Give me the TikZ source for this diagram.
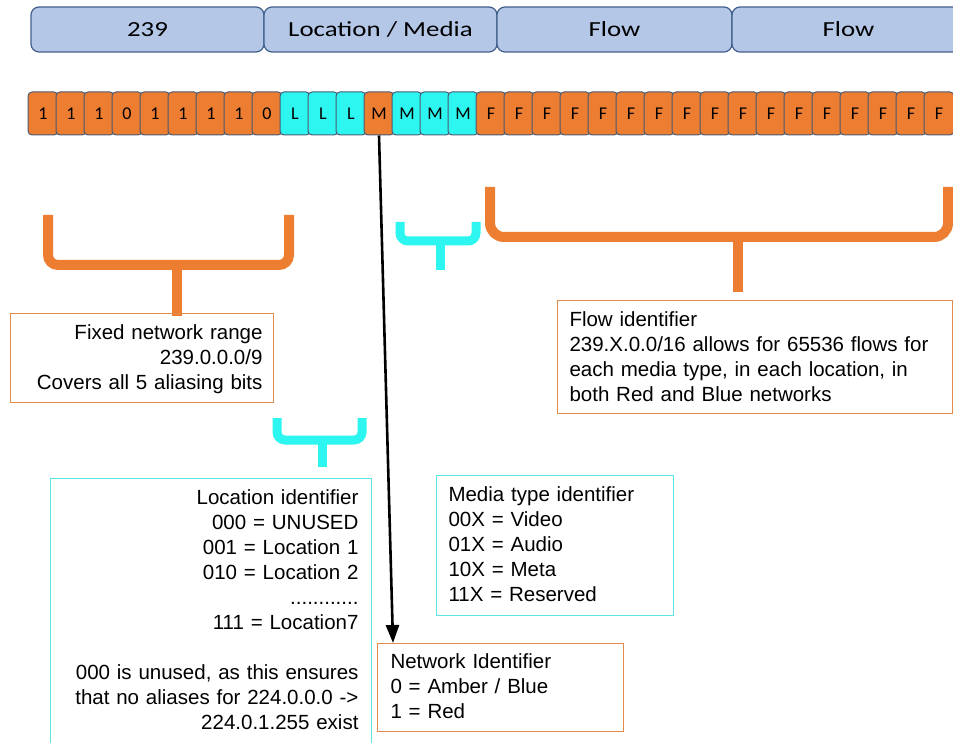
\documentclass[tikz,border=0pt]{standalone}
\usepackage{fontspec}
\setmainfont{Liberation Sans}
\newfontfamily\hdrfont[FakeStretch=1.25]{Carlito}
\newfontfamily\bitfont{Carlito}
\usetikzlibrary{positioning,arrows.meta}

\definecolor{bitorange}{RGB}{237,125,49}
\definecolor{bitcyan}{RGB}{45,245,240}
\definecolor{hdrfill}{RGB}{180,199,231}
\definecolor{hdrline}{RGB}{65,95,140}
\definecolor{bitline}{RGB}{75,90,115}
\definecolor{boxorange}{RGB}{230,140,75}
\definecolor{boxcyan}{RGB}{90,228,228}

\tikzset{
  hdr/.style={draw=hdrline, fill=hdrfill, line width=1.2pt, rounded corners=8pt,
    minimum width=233pt, minimum height=45pt, outer sep=0pt, inner sep=0pt,
    font=\hdrfont\fontsize{21.5}{25}\selectfont},
  bit/.style={draw=bitline, line width=1pt, rounded corners=4pt,
    minimum width=30pt, minimum height=43pt, inner sep=0pt,
    font=\bitfont\fontsize{18}{20}\selectfont},
  infobox/.style={draw, line width=1pt, anchor=north west, inner xsep=12pt,
    inner ysep=11pt, font=\fontsize{20.5}{25}\selectfont},
  obrace/.style={draw=bitorange, line width=10pt, rounded corners=10pt},
  cbrace/.style={draw=bitcyan, line width=9pt, rounded corners=8pt},
}

\begin{document}
\begin{tikzpicture}[x=1pt,y=-1pt]
\useasboundingbox (0,0) rectangle (953,743);
\clip (0,0) rectangle (953,743);

% header row
\node[hdr] (h239) at (147.5,29.5) {239};
\node[hdr, right=0pt of h239] (hlocmedia) {Location / Media};
\node[hdr, minimum width=235pt, right=0pt of hlocmedia] (hflowa) {Flow};
\node[hdr, right=0pt of hflowa] (hflowb) {Flow};

% address bits
\foreach \lab/\col [count=\i from 0] in {1/bitorange,1/bitorange,1/bitorange,0/bitorange,
    1/bitorange,1/bitorange,1/bitorange,1/bitorange,0/bitorange,L/bitcyan,L/bitcyan,
    L/bitcyan,M/bitorange,M/bitcyan,M/bitcyan,M/bitcyan}
  \node[bit, fill=\col] (b\i) at ({43+28*\i},113.5) {\lab};
\foreach \i in {16,...,32}
  \node[bit, fill=bitorange] (b\i) at ({43+28*\i},113.5) {F};

% braces
\draw[obrace] (48,215) -- (48,265) -- (289,265) -- (289,215);
\draw[obrace] (177,265) -- (177,316);
\draw[cbrace] (400,222) -- (400,241) -- (476,241) -- (476,222);
\draw[cbrace] (440,241) -- (440,270);
\draw[obrace, rounded corners=14pt] (490,187) -- (490,237) -- (948,237) -- (948,187);
\draw[obrace] (738,237) -- (738,292);
\draw[cbrace] (277,418) -- (277,440) -- (362,440) -- (362,418);
\draw[cbrace] (322,440) -- (322,467);

% description boxes
\node[infobox, draw=boxorange, text width=241pt, align=right, inner xsep=11pt, text depth=52pt] (fixbox)
  at (10,313) {Fixed network range\\239.0.0.0/9\\Covers all 5 aliasing bits};
\node[infobox, draw=boxorange, text width=371pt, align=left, text depth=76pt] (flowbox)
  at (557,300) {Flow identifier\\239.X.0.0/16 allows for 65536 flows for\\each media type, in each location, in\\both Red and Blue networks};
\node[infobox, draw=boxcyan, text width=295pt, align=right, inner xsep=13pt, text depth=245pt] (locbox)
  at (50,478) {Location identifier\\000 = UNUSED\\001 = Location 1\\010 = Location 2\\............\\111 = Location7\\[25pt]000 is unused, as this ensures\\that no aliases for 224.0.0.0 ->\\224.0.1.255 exist};
\node[infobox, draw=boxcyan, text width=213pt, align=left, text depth=103pt] (mediabox)
  at (436,475) {Media type identifier\\00X = Video\\01X = Audio\\10X = Meta\\11X = Reserved};
\node[infobox, draw=boxorange, text width=220pt, align=left, inner xsep=13pt, inner ysep=10pt, text depth=53pt] (netbox)
  at (377,643) {Network Identifier\\0 = Amber / Blue\\1 = Red};

\draw[-{Triangle[length=18pt,width=13pt]}, line width=2.6pt] (b12.south) -- ([xshift=16pt]netbox.north west);
\end{tikzpicture}
\end{document}
